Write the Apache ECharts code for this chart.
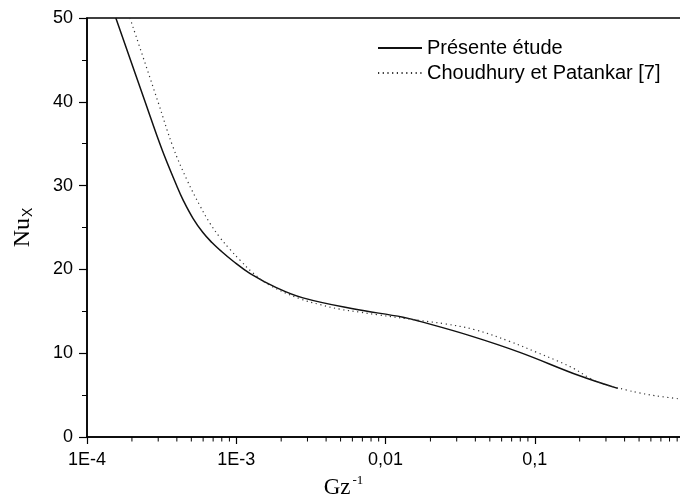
<!DOCTYPE html>
<html><head><meta charset="utf-8">
<script src="https://cdn.jsdelivr.net/npm/echarts@6/dist/echarts.min.js"></script>
<style>html,body{margin:0;padding:0;background:#fff}#c{width:680px;height:499px}</style>
</head><body><div id="c"></div>
<script>
var seriesNames = ['Présente étude', 'Choudhury et Patankar [7]'];
var solidX = [1.56e-4, 2.45e-4, 3.18e-4, 4.01e-4, 4.40e-4, 5.13e-4, 5.98e-4, 6.87e-4, 7.78e-4, 9.5e-4, 1.24e-3, 1.87e-3, 2.80e-3, 6.05e-3, 1.31e-2, 1.70e-2, 3.67e-2, 7.94e-2, 0.200, 0.360];
var solidY = [50, 40, 34.3, 29.9, 28.3, 26.1, 24.4, 23.2, 22.3, 21.0, 19.5, 17.8, 16.6, 15.3, 14.3, 13.8, 12.1, 10.1, 7.3, 5.8];
var dotX = [1.94e-4, 2.99e-4, 3.77e-4, 4.67e-4, 5.71e-4, 6.67e-4, 7.78e-4, 9.07e-4, 1.06e-3, 1.29e-3, 1.68e-3, 2.67e-3, 3.64e-3, 4.95e-3, 6.74e-3, 8.76e-3, 1.70e-2, 2.50e-2, 3.97e-2, 6.81e-2, 0.103, 0.141, 0.186, 0.229, 0.286, 0.414, 0.506, 0.689, 0.937];
var dotY = [50, 40, 34.6, 30.7, 27.6, 25.5, 23.8, 22.4, 21.1, 19.6, 18.1, 16.5, 15.8, 15.25, 14.9, 14.6, 13.9, 13.5, 12.8, 11.4, 10.1, 9.1, 8.1, 7.1, 6.35, 5.6, 5.25, 4.85, 4.55];
var xTickLabels = {'0.0001': '1E-4', '0.001': '1E-3', '0.01': '0,01', '0.1': '0,1', '1': '1'};

function zip(a, b) { return a.map(function (v, i) { return [v, b[i]]; }); }
// log minor tick positions (2..9 within each decade) — axis decoration only
var minorTicks = [];
for (var d = -4; d < 0; d++) { for (var m = 2; m <= 9; m++) { minorTicks.push([m * Math.pow(10, d), 0]); } }

var chart = echarts.init(document.getElementById('c'), null, {renderer: 'canvas'});
chart.setOption({
  animation: false,
  backgroundColor: '#fff',
  grid: {left: 87, right: -4, top: 18, bottom: 62, outerBoundsMode: 'none', containLabel: false,
         show: true, borderColor: '#000', borderWidth: 1.5, backgroundColor: 'transparent'},
  legend: {
    orient: 'vertical', left: 377, top: 38, padding: 0, itemWidth: 44, itemHeight: 10, itemGap: 5,
    itemStyle: {color: 'rgba(0,0,0,0)', borderWidth: 0, opacity: 0},
    textStyle: {fontFamily: 'Liberation Sans, Arial', fontSize: 20, color: '#000'},
    data: seriesNames
  },
  xAxis: {
    type: 'log', logBase: 10, min: 0.0001, max: 1,
    name: '{g|Gz}{s|-1}', nameLocation: 'middle', nameGap: 36,
    nameTextStyle: {padding: [0, 84, 0, 0], rich: {
      g: {fontFamily: 'Liberation Serif, Times New Roman', fontSize: 23, color: '#000'},
      s: {fontFamily: 'Liberation Serif, Times New Roman', fontSize: 13, color: '#000', padding: [0, 0, 16, 2]}
    }},
    axisLine: {lineStyle: {color: '#000', width: 1.5}},
    axisTick: {show: true, inside: false, length: 7, lineStyle: {color: '#000', width: 1.2}},
    minorTick: {show: false},
    splitLine: {show: false},
    axisLabel: {
      margin: 14, fontFamily: 'Liberation Sans, Arial', fontSize: 18, color: '#000',
      formatter: function (v) { var k = String(+v.toPrecision(6)); return xTickLabels[k] !== undefined ? xTickLabels[k] : ''; }
    }
  },
  yAxis: {
    type: 'value', min: 0, max: 50, interval: 10,
    name: '{n|Nu}{s|X}', nameLocation: 'middle', nameGap: 52,
    nameTextStyle: {rich: {
      n: {fontFamily: 'Liberation Serif, Times New Roman', fontSize: 24, color: '#000'},
      s: {fontFamily: 'Liberation Sans, Arial', fontSize: 14, color: '#000', padding: [10, 0, 0, 1]}
    }},
    axisLine: {show: true, lineStyle: {color: '#000', width: 1.5}},
    axisTick: {show: true, inside: false, length: 8, lineStyle: {color: '#000', width: 1.2}},
    minorTick: {show: true, splitNumber: 2, length: 5, lineStyle: {color: '#000', width: 1}},
    splitLine: {show: false},
    axisLabel: {margin: 14, fontFamily: 'Liberation Sans, Arial', fontSize: 18, color: '#000'}
  },
  series: [
    {name: seriesNames[0], type: 'line', data: zip(solidX, solidY), smooth: 0.4, showSymbol: false, symbol: 'none',
     lineStyle: {color: '#111', width: 1.5, type: 'solid'}, itemStyle: {color: '#111'}},
    {name: seriesNames[1], type: 'line', data: zip(dotX, dotY), smooth: 0.4, showSymbol: false, symbol: 'none',
     lineStyle: {color: '#333', width: 1.2, type: [1.2, 3.5]}, itemStyle: {color: '#333'}},
    {name: 'minorTicks', type: 'custom', data: minorTicks, clip: false, silent: true,
     renderItem: function (params, api) {
       var p = api.coord([api.value(0), 0]);
       return {type: 'line', shape: {x1: p[0], y1: p[1], x2: p[0], y2: p[1] + 4.5},
               style: {stroke: '#000', lineWidth: 1}};
     }}
  ]
});
</script></body></html>
